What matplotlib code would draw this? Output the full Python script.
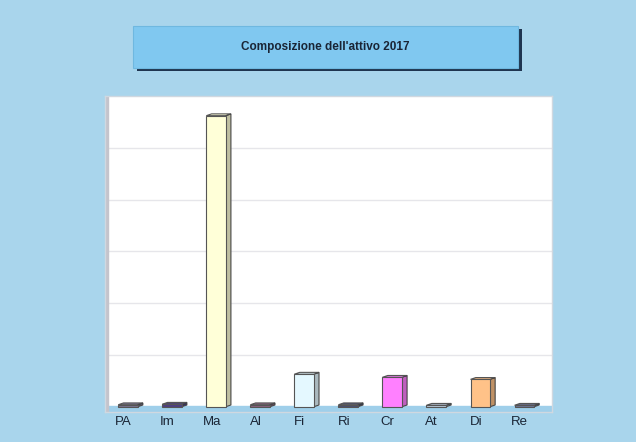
import matplotlib
matplotlib.use("Agg")
from matplotlib import pyplot as plt
from matplotlib.patches import Polygon, Rectangle
import numpy as np

categories = ["PA", "Im", "Ma", "Al", "Fi", "Ri", "Cr", "At", "Di", "Re"]
values = [0.04, 0.05, 5.62, 0.04, 0.63, 0.04, 0.57, 0.03, 0.53, 0.03]
bar_colors = ["#7c7490", "#4e3f80", "#ffffd8", "#8c6280", "#e4f8ff",
              "#4c5070", "#ff80ff", "#b8c8d8", "#ffc288", "#6c7494"]
title = "Composizione dell'attivo 2017"

bg = "#a9d5ec"
fig = plt.figure(figsize=(6.36, 4.42), dpi=100, facecolor=bg)

# title box with shadow
fig.patches.append(Rectangle((137/636, 1-71/442), 385/636, 42/442,
                             transform=fig.transFigure, facecolor="#1f3550",
                             edgecolor="none", zorder=1))
fig.patches.append(Rectangle((133/636, 1-68/442), 385/636, 42/442,
                             transform=fig.transFigure, facecolor="#80c8f0",
                             edgecolor="#6fb8e0", lw=0.8, zorder=2))
fig.text(325/636, 1-47/442, title, ha="center", va="center", fontsize=8.5,
         fontweight="bold", family="Liberation Sans", color="#1a2535", zorder=3)

ax = fig.add_axes([105/636, 1-412/442, 447/636, 316/442])
ax.set_facecolor("white")
ymin, ymax = -0.1, 6.0
ax.set_ylim(ymin, ymax)
ax.set_xlim(-0.52, 9.63)

# gridlines
for g in range(1, 6):
    ax.axhline(g, color="#e6e6ea", lw=1.0, zorder=0)
# floor
ax.axhspan(ymin, 0.02, color="#9fcfea", zorder=0.5)
# left wall
ax.axvspan(-0.52, -0.45, color="#c4c4cc", zorder=0.6)

x = np.arange(len(categories))
w = 0.44
dx, dy = 0.12, 0.035
ax.bar(x, values, width=w, color=bar_colors, edgecolor="#555555", lw=0.8, zorder=3)
for xi, v, c in zip(x, values, bar_colors):
    l, r = xi - w/2, xi + w/2
    side = Polygon([(r, 0), (r + dx, dy), (r + dx, v + dy), (r, v)], closed=True,
                   facecolor=c, edgecolor="#555555", lw=0.8, zorder=2.9)
    top = Polygon([(l, v), (l + dx, v + dy), (r + dx, v + dy), (r, v)], closed=True,
                  facecolor=c, edgecolor="#555555", lw=0.8, zorder=2.9)
    shade = Polygon([(r, 0), (r + dx, dy), (r + dx, v + dy), (r, v)], closed=True,
                    facecolor="black", alpha=0.25, edgecolor="none", zorder=2.95)
    ax.add_patch(side)
    ax.add_patch(top)
    ax.add_patch(shade)

ax.set_xticks(x - 0.1)
ax.set_xticklabels(categories, family="Liberation Sans", fontsize=9.5, color="#1a2535")
ax.tick_params(axis="x", length=0, pad=3)
ax.set_yticks([])
for s in ax.spines.values():
    s.set_color("#d0d8e0")
    s.set_linewidth(1.0)

fig.savefig("out.png", dpi=100, facecolor=bg)
